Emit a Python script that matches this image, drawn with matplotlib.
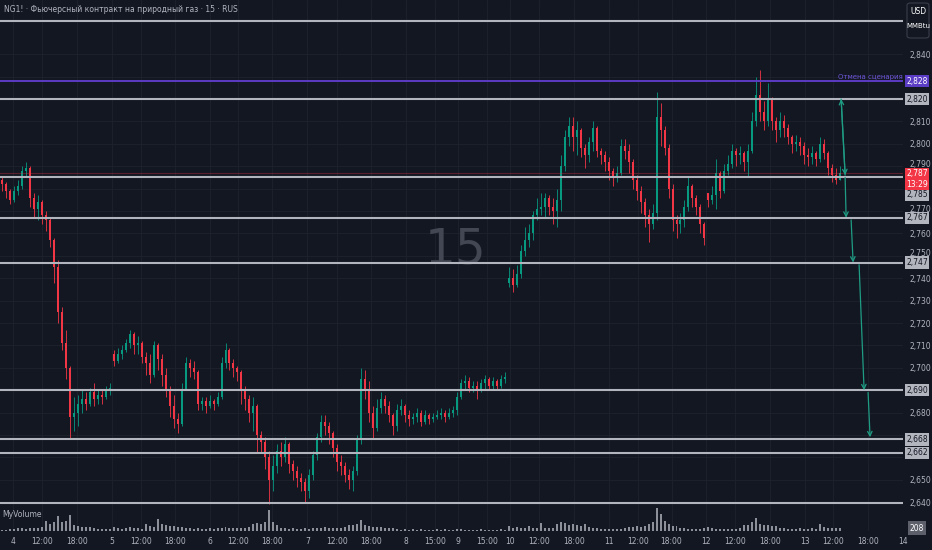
import numpy as np
import matplotlib
matplotlib.use("Agg")
import matplotlib.pyplot as plt
from matplotlib.transforms import blended_transform_factory, ScaledTranslation
from matplotlib.patches import FancyBboxPatch

plt.rcParams['font.family'] = ['Liberation Sans Narrow', 'DejaVu Sans']

# ---- data (15 min NG1!, resampled to ~45 min candles) ----
first_open = 2.784
gap_open = {28: 2.706, 127: 2.738, 177: 2.778}

closes = [
    2.782, 2.779, 2.775, 2.779, 2.781, 2.788, 2.789, 2.776, 2.771, 2.774,
    2.768, 2.766, 2.757, 2.745, 2.725, 2.711, 2.700, 2.678, 2.680, 2.684,
    2.686, 2.684, 2.689, 2.686, 2.688, 2.687, 2.690, 2.691, 2.703, 2.706,
    2.708, 2.711, 2.715, 2.710, 2.711, 2.705, 2.702, 2.697, 2.710, 2.704,
    2.697, 2.690, 2.683, 2.677, 2.675, 2.690, 2.702, 2.700, 2.698, 2.684,
    2.685, 2.683, 2.685, 2.684, 2.687, 2.702, 2.708, 2.702, 2.700, 2.698,
    2.690, 2.686, 2.680, 2.683, 2.670, 2.667, 2.660, 2.650, 2.656, 2.663,
    2.660, 2.666, 2.657, 2.654, 2.651, 2.649, 2.645, 2.652, 2.661, 2.669,
    2.676, 2.674, 2.671, 2.664, 2.658, 2.656, 2.652, 2.650, 2.654, 2.668,
    2.695, 2.690, 2.680, 2.673, 2.682, 2.686, 2.683, 2.679, 2.674, 2.681,
    2.683, 2.679, 2.677, 2.678, 2.680, 2.676, 2.679, 2.677, 2.678, 2.679,
    2.680, 2.678, 2.680, 2.681, 2.687, 2.693, 2.694, 2.691, 2.692, 2.690,
    2.693, 2.695, 2.692, 2.694, 2.692, 2.695, 2.696, 2.740, 2.737, 2.742,
    2.752, 2.757, 2.760, 2.768, 2.771, 2.772, 2.776, 2.772, 2.770, 2.775,
    2.790, 2.803, 2.808, 2.803, 2.806, 2.798, 2.795, 2.801, 2.807, 2.797,
    2.795, 2.792, 2.788, 2.785, 2.787, 2.799, 2.797, 2.792, 2.784, 2.779,
    2.774, 2.768, 2.764, 2.769, 2.812, 2.806, 2.798, 2.780, 2.766, 2.764,
    2.766, 2.772, 2.781, 2.776, 2.772, 2.764, 2.758, 2.775, 2.777, 2.787,
    2.779, 2.788, 2.791, 2.797, 2.795, 2.796, 2.792, 2.797, 2.810, 2.822,
    2.814, 2.810, 2.820, 2.810, 2.806, 2.810, 2.807, 2.803, 2.800, 2.801,
    2.799, 2.795, 2.794, 2.796, 2.793, 2.800, 2.796, 2.789, 2.786, 2.784,
    2.787,
]

highs = [
    2.785, 2.783, 2.780, 2.781, 2.784, 2.790, 2.792, 2.790, 2.778, 2.777,
    2.775, 2.770, 2.767, 2.758, 2.748, 2.727, 2.717, 2.701, 2.687, 2.688,
    2.690, 2.689, 2.691, 2.693, 2.690, 2.690, 2.692, 2.693, 2.708, 2.709,
    2.710, 2.713, 2.717, 2.716, 2.714, 2.712, 2.707, 2.706, 2.712, 2.711,
    2.706, 2.700, 2.692, 2.688, 2.680, 2.693, 2.705, 2.704, 2.703, 2.699,
    2.687, 2.687, 2.688, 2.686, 2.689, 2.705, 2.711, 2.709, 2.704, 2.701,
    2.699, 2.692, 2.688, 2.687, 2.684, 2.672, 2.669, 2.663, 2.661, 2.666,
    2.667, 2.669, 2.667, 2.659, 2.656, 2.653, 2.651, 2.655, 2.663, 2.671,
    2.679, 2.679, 2.676, 2.672, 2.666, 2.661, 2.658, 2.655, 2.656, 2.670,
    2.700, 2.699, 2.694, 2.683, 2.686, 2.689, 2.688, 2.685, 2.680, 2.684,
    2.686, 2.684, 2.681, 2.680, 2.682, 2.681, 2.681, 2.680, 2.680, 2.681,
    2.682, 2.681, 2.682, 2.683, 2.689, 2.695, 2.697, 2.696, 2.694, 2.694,
    2.695, 2.697, 2.696, 2.696, 2.695, 2.697, 2.698, 2.745, 2.744, 2.746,
    2.755, 2.763, 2.764, 2.770, 2.776, 2.778, 2.778, 2.777, 2.776, 2.780,
    2.795, 2.806, 2.812, 2.812, 2.810, 2.807, 2.800, 2.803, 2.810, 2.808,
    2.798, 2.797, 2.794, 2.789, 2.790, 2.802, 2.802, 2.800, 2.793, 2.786,
    2.781, 2.776, 2.771, 2.773, 2.823, 2.818, 2.808, 2.800, 2.782, 2.768,
    2.769, 2.775, 2.785, 2.782, 2.777, 2.773, 2.765, 2.778, 2.781, 2.793,
    2.788, 2.791, 2.795, 2.800, 2.798, 2.799, 2.797, 2.800, 2.814, 2.830,
    2.833, 2.819, 2.827, 2.821, 2.812, 2.814, 2.813, 2.809, 2.804, 2.804,
    2.803, 2.801, 2.798, 2.799, 2.797, 2.803, 2.802, 2.797, 2.791, 2.789,
    2.790,
]

lows = [
    2.779, 2.776, 2.773, 2.774, 2.777, 2.780, 2.785, 2.772, 2.767, 2.766,
    2.764, 2.761, 2.754, 2.738, 2.720, 2.708, 2.695, 2.668, 2.672, 2.674,
    2.680, 2.681, 2.683, 2.683, 2.684, 2.684, 2.686, 2.688, 2.701, 2.702,
    2.704, 2.707, 2.709, 2.706, 2.706, 2.702, 2.697, 2.693, 2.696, 2.699,
    2.692, 2.687, 2.678, 2.673, 2.671, 2.674, 2.690, 2.696, 2.695, 2.681,
    2.681, 2.680, 2.682, 2.681, 2.683, 2.686, 2.700, 2.699, 2.696, 2.694,
    2.684, 2.681, 2.676, 2.672, 2.662, 2.662, 2.655, 2.639, 2.645, 2.653,
    2.656, 2.658, 2.653, 2.650, 2.647, 2.645, 2.640, 2.642, 2.650, 2.659,
    2.667, 2.670, 2.666, 2.660, 2.654, 2.652, 2.649, 2.646, 2.645, 2.652,
    2.666, 2.686, 2.676, 2.668, 2.672, 2.680, 2.680, 2.676, 2.670, 2.672,
    2.679, 2.676, 2.674, 2.675, 2.676, 2.674, 2.675, 2.675, 2.676, 2.677,
    2.677, 2.676, 2.677, 2.678, 2.679, 2.686, 2.690, 2.689, 2.689, 2.686,
    2.689, 2.690, 2.690, 2.690, 2.690, 2.691, 2.693, 2.736, 2.734, 2.736,
    2.740, 2.750, 2.754, 2.757, 2.766, 2.768, 2.767, 2.768, 2.764, 2.763,
    2.770, 2.788, 2.799, 2.797, 2.795, 2.794, 2.789, 2.792, 2.797, 2.794,
    2.791, 2.788, 2.784, 2.781, 2.783, 2.786, 2.793, 2.787, 2.780, 2.775,
    2.769, 2.763, 2.756, 2.762, 2.766, 2.799, 2.795, 2.776, 2.761, 2.758,
    2.760, 2.763, 2.770, 2.772, 2.768, 2.760, 2.755, 2.772, 2.773, 2.771,
    2.776, 2.778, 2.786, 2.789, 2.790, 2.791, 2.788, 2.785, 2.796, 2.808,
    2.810, 2.806, 2.808, 2.806, 2.801, 2.803, 2.803, 2.800, 2.796, 2.797,
    2.795, 2.791, 2.790, 2.791, 2.790, 2.792, 2.793, 2.786, 2.783, 2.782,
    2.784,
]

volumes = [
    100, 80, 150, 120, 180, 210, 150, 200, 180, 220,
    250, 700, 500, 600, 1050, 600, 700, 1100, 400, 350,
    300, 250, 260, 180, 150, 120, 160, 130, 300, 200,
    170, 220, 250, 180, 200, 170, 500, 350, 300, 850,
    500, 400, 350, 320, 300, 250, 200, 180, 150, 200,
    160, 150, 180, 140, 200, 220, 250, 200, 210, 180,
    200, 230, 250, 500, 550, 520, 600, 1480, 600, 400,
    200, 180, 150, 200, 140, 170, 200, 160, 220, 200,
    180, 250, 200, 210, 180, 230, 250, 400, 450, 500,
    780, 400, 350, 300, 250, 300, 220, 200, 180, 120,
    100, 130, 90, 110, 100, 120, 90, 80, 100, 110,
    90, 120, 100, 90, 110, 130, 100, 90, 80, 100,
    110, 90, 80, 100, 90, 110, 100, 350, 200, 250,
    180, 230, 350, 200, 180, 560, 200, 210, 230, 500,
    600, 560, 450, 480, 400, 350, 490, 250, 200, 180,
    150, 160, 120, 150, 140, 170, 200, 250, 300, 350,
    300, 350, 490, 600, 1600, 1200, 700, 500, 350, 350,
    200, 180, 150, 160, 140, 170, 200, 250, 180, 150,
    160, 140, 130, 170, 150, 200, 420, 400, 600, 900,
    500, 450, 400, 350, 380, 200, 180, 150, 170, 140,
    200, 160, 150, 180, 170, 490, 250, 200, 230, 180,
    208,
]

# horizontal levels
levels = [2.855, 2.820, 2.785, 2.767, 2.747, 2.690, 2.668, 2.662, 2.6395]
labeled_levels = [2.820, 2.767, 2.747, 2.690, 2.668, 2.662]
cancel_level = 2.828
last_price = 2.787
countdown = "13:29"

# scenario arrows: (x0, p0, x1, p1) in bar index / price
scenario = [
    (211.25, 2.786, 210.25, 2.820),
    (210.25, 2.820, 211.25, 2.786),
    (211.25, 2.785, 211.5, 2.767),
    (212.75, 2.766, 213.25, 2.747),
    (214.75, 2.746, 216.0, 2.690),
    (217.0, 2.689, 217.5, 2.669),
]

time_pos = [2.75, 10, 18.75, 27.5, 34.75, 43.25, 52, 59.25, 67.75, 76.5, 84, 92.5,
            101.25, 108.5, 114.25, 121.5, 127.25, 134.5, 143.25, 152, 159.25, 167.75,
            176.5, 183.75, 192.5, 201.25, 208.25, 217, 225.75]
time_labels = ["4", "12:00", "18:00", "5", "12:00", "18:00", "6", "12:00", "18:00",
               "7", "12:00", "18:00", "8", "15:00", "9", "15:00", "10", "12:00", "18:00",
               "11", "12:00", "18:00", "12", "12:00", "18:00", "13", "12:00", "18:00", "14"]

price_ticks = np.round(np.arange(2.64, 2.8451, 0.01), 2)
# scale labels that sit under the level boxes in the picture
hidden_ticks = [2.66, 2.67, 2.69, 2.78, 2.82, 2.83]
# scale labels squeezed just above a box
nudged_ticks = ["2,790", "2,770", "2,750"]

# ---- style ----
bg = '#131722'
grid_c = '#1e222d'
txt = '#b2b5be'
up_c = '#089981'
dn_c = '#f23645'
lvl_c = '#b2b5be'
purple = '#5b3cc4'
arrow_c = '#1f9c84'
fs = 5.5

W, H = 932, 550
def frac(l, t, w, h):
    return [l / W, 1 - (t + h) / H, w / W, h / H]

fig = plt.figure(figsize=(W / 100, H / 100), dpi=100, facecolor=bg)
ax = fig.add_axes(frac(0, 0, 903, 505))
axv = fig.add_axes(frac(0, 505, 903, 26), sharex=ax)

for a in (ax, axv):
    a.set_facecolor(bg)
    for s in a.spines.values():
        s.set_visible(False)
    a.grid(True, color=grid_c, linewidth=0.6)
    a.set_axisbelow(True)

o = np.r_[first_open, closes[:-1]]
for k, v in gap_open.items():
    o[k] = v
c = np.array(closes)
hi = np.array(highs)
lo = np.array(lows)
idx = np.arange(len(c))
cols = np.where(c >= o, up_c, dn_c)

ax.vlines(idx, lo, hi, colors=cols, linewidth=0.6, zorder=2)
ax.bar(idx, np.maximum(np.abs(c - o), 0.0004), bottom=np.minimum(o, c), width=0.5,
       color=cols, linewidth=0, zorder=2)

ax.set_xlim(-0.5, 225.25)
ax.set_ylim(2.63875, 2.8642)
ax.set_xticks(time_pos)
ax.tick_params(axis='x', length=0, labelbottom=False)

ax.yaxis.tick_right()
ax.set_yticks(price_ticks)
ax.set_yticklabels(["" if v in hidden_ticks else f"{v:.3f}".replace('.', ',') for v in price_ticks])
ax.tick_params(axis='y', length=0, pad=4.5, labelsize=fs, labelcolor=txt)
for lab in ax.get_yticklabels():
    if lab.get_text() in nudged_ticks:
        lab.set_transform(lab.get_transform() + ScaledTranslation(0, 0.03, fig.dpi_scale_trans))

# watermark
ax.text(0.504, 0.505, "15", transform=ax.transAxes, fontsize=35, color='#434753',
        ha='center', va='center', zorder=1)

# levels
ax.axhline(last_price, color=dn_c, alpha=0.3, linewidth=0.8, zorder=3)
for lv in levels:
    ax.axhline(lv, color=lvl_c, linewidth=1.5, zorder=4)
ax.axhline(cancel_level, color=purple, linewidth=1.4, zorder=4)
trans = blended_transform_factory(ax.transAxes, ax.transData)
ax.text(1.0, cancel_level + 0.0006, "Отмена сценария", transform=trans,
        ha='right', va='bottom', fontsize=5, color='#6e55d9', zorder=5, clip_on=False)

lab_x = 917 / 903

def price_box(price, text, fc, tc, dy=0):
    ax.annotate(text, xy=(lab_x, price), xycoords=trans, xytext=(0, dy), textcoords='offset points',
                ha='center', va='center', fontsize=fs, color=tc, annotation_clip=False, zorder=6,
                bbox=dict(boxstyle='square,pad=0.2', fc=fc, ec='none'))

for lv in labeled_levels:
    price_box(lv, f"{lv:.3f}".replace('.', ','), lvl_c, bg)
price_box(2.785, "2,785", lvl_c, bg, dy=-12.5)
price_box(cancel_level, f"{cancel_level:.3f}".replace('.', ','), purple, 'white')
price_box(last_price, f"{last_price:.3f}".replace('.', ',') + "\n" + countdown, dn_c, 'white', dy=-4.5)

# scenario arrows
for x0, p0, x1, p1 in scenario:
    ax.annotate('', xy=(x1, p1), xytext=(x0, p0),
                arrowprops=dict(arrowstyle='->', color=arrow_c, lw=0.9, mutation_scale=8,
                                shrinkA=0, shrinkB=0), zorder=5)

# volume pane
axv.bar(idx, volumes, width=0.5, color='#a3a6af', alpha=0.85, linewidth=0)
axv.set_ylim(0, 1820)
axv.set_yticks([])
axv.tick_params(axis='x', length=0, labelbottom=False)
tv = blended_transform_factory(axv.transData, axv.transAxes)
for p, lab in zip(time_pos, time_labels):
    axv.text(p, -0.42, lab, transform=tv, ha='center', va='center', fontsize=fs,
             color=txt, clip_on=False)
axv.text(0.003, 0.65, "MyVolume", transform=axv.transAxes, fontsize=fs, color=txt, va='center')
axv.text(lab_x, volumes[-1], str(volumes[-1]), transform=blended_transform_factory(axv.transAxes, axv.transData),
         ha='center', va='center', fontsize=fs, color='white', clip_on=False,
         bbox=dict(boxstyle='square,pad=0.3', fc='#5d606b', ec='none'))

# header
fig.text(4 / W, 1 - 10 / H, "NG1! · Фьючерсный контракт на природный газ · 15 · RUS",
         fontsize=fs, color=txt, va='center')
fig.patches.append(FancyBboxPatch((907 / W, 1 - 38 / H), 22 / W, 35 / H,
                                  boxstyle='round,pad=0,rounding_size=0.004',
                                  transform=fig.transFigure, fc=bg, ec='#3a3e4a', lw=0.8))
fig.text(918 / W, 1 - 11 / H, "USD", fontsize=fs, color='white', ha='center', va='center')
fig.text(918 / W, 1 - 26 / H, "MMBtu", fontsize=fs - 0.5, color='white', ha='center', va='center')

fig.savefig("out.png", dpi=100, facecolor=bg)
